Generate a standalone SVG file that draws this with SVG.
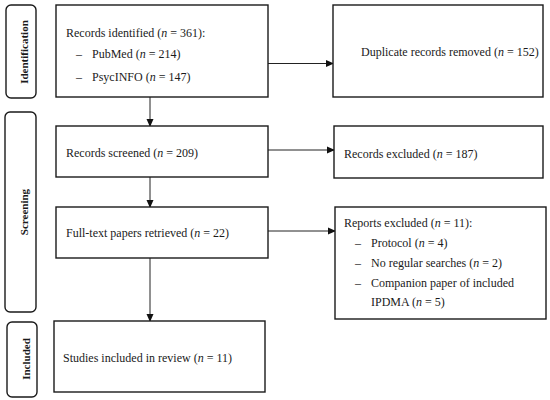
<svg xmlns="http://www.w3.org/2000/svg" width="550" height="400" viewBox="0 0 550 400">
<style>
.box{fill:#fff;stroke:#1a1a1a;stroke-width:1.4}
.side{fill:#fff;stroke:#1a1a1a;stroke-width:1.4}
.t{font-family:"Liberation Serif","Times New Roman",serif;font-size:12px;fill:#1a1a1a}
.s{font-family:"Liberation Serif","Times New Roman",serif;font-size:11px;font-weight:bold;fill:#1a1a1a}
.c{stroke:#222;stroke-width:1;fill:none}
</style>
<defs>
<marker id="ah" markerWidth="8" markerHeight="8" refX="7" refY="4" orient="auto" markerUnits="userSpaceOnUse">
<path d="M0,0.5 L8,4 L0,7.5 Z" fill="#111"/>
</marker>
</defs>
<rect width="550" height="400" fill="#fff"/>
<g id="phase-identification">
<rect class="side" x="6" y="5" width="30" height="93" rx="5"/>
<text class="s" transform="translate(28,52) rotate(-90)" text-anchor="middle">Identification</text>
</g>
<g id="phase-screening">
<rect class="side" x="5" y="112" width="31" height="200" rx="5"/>
<text class="s" transform="translate(28,212) rotate(-90)" text-anchor="middle">Screening</text>
</g>
<g id="phase-included">
<rect class="side" x="7" y="322" width="30" height="75" rx="5"/>
<text class="s" transform="translate(30,359) rotate(-90)" text-anchor="middle">Included</text>
</g>
<g id="connectors">
<line class="c" x1="150" y1="97" x2="150" y2="126" marker-end="url(#ah)"/>
<line class="c" x1="268" y1="63.5" x2="333" y2="63.5" marker-end="url(#ah)"/>
<line class="c" x1="268" y1="150" x2="334" y2="150" marker-end="url(#ah)"/>
<line class="c" x1="150" y1="177" x2="150" y2="207" marker-end="url(#ah)"/>
<line class="c" x1="268" y1="231" x2="335" y2="231" marker-end="url(#ah)"/>
<line class="c" x1="150" y1="258" x2="150" y2="321" marker-end="url(#ah)"/>
</g>
<g id="records-identified">
<rect class="box" x="56" y="5" width="212" height="92"/>
<text class="t" x="66" y="36.5">Records identified (<tspan font-style="italic">n</tspan> = 361):</text>
<text class="t" x="76" y="58">–</text>
<text class="t" x="92" y="58">PubMed (<tspan font-style="italic">n</tspan> = 214)</text>
<text class="t" x="76" y="81">–</text>
<text class="t" x="92" y="81">PsycINFO (<tspan font-style="italic">n</tspan> = 147)</text>
</g>
<g id="duplicates-removed">
<rect class="box" x="333" y="5" width="210" height="92"/>
<text class="t" x="361" y="56">Duplicate records removed (<tspan font-style="italic">n</tspan> = 152)</text>
</g>
<g id="records-screened">
<rect class="box" x="56" y="126" width="212" height="51"/>
<text class="t" x="66" y="157">Records screened (<tspan font-style="italic">n</tspan> = 209)</text>
</g>
<g id="records-excluded">
<rect class="box" x="334" y="126" width="209" height="52"/>
<text class="t" x="344" y="158">Records excluded (<tspan font-style="italic">n</tspan> = 187)</text>
</g>
<g id="fulltext-retrieved">
<rect class="box" x="56" y="207" width="212" height="51"/>
<text class="t" x="66" y="237">Full-text papers retrieved (<tspan font-style="italic">n</tspan> = 22)</text>
</g>
<g id="reports-excluded">
<rect class="box" x="335" y="207" width="211" height="112"/>
<text class="t" x="344" y="227">Reports excluded (<tspan font-style="italic">n</tspan> = 11):</text>
<text class="t" x="355" y="247">–</text>
<text class="t" x="371" y="247">Protocol (<tspan font-style="italic">n</tspan> = 4)</text>
<text class="t" x="355" y="267">–</text>
<text class="t" x="371" y="267">No regular searches (<tspan font-style="italic">n</tspan> = 2)</text>
<text class="t" x="355" y="287">–</text>
<text class="t" x="371" y="287">Companion paper of included</text>
<text class="t" x="371" y="306">IPDMA (<tspan font-style="italic">n</tspan> = 5)</text>
</g>
<g id="studies-included">
<rect class="box" x="54" y="321" width="211" height="71"/>
<text class="t" x="63" y="362">Studies included in review (<tspan font-style="italic">n</tspan> = 11)</text>
</g>
</svg>
